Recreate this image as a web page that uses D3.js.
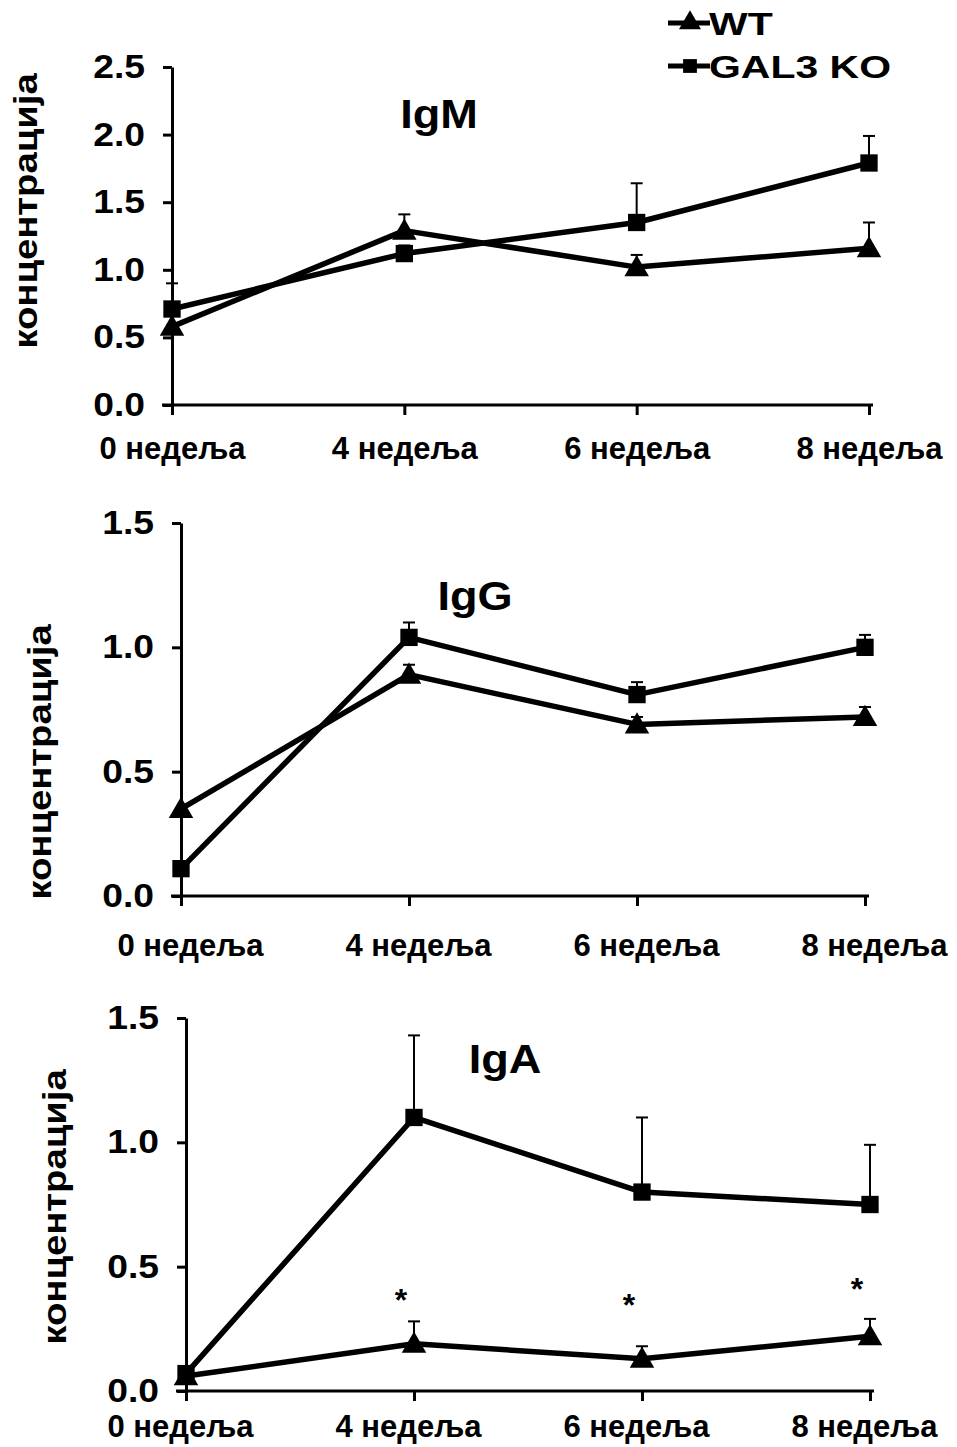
<!DOCTYPE html>
<html>
<head>
<meta charset="utf-8">
<script src="https://cdn.jsdelivr.net/npm/d3@7"></script>
<style>
  body { margin: 0; background: #fff; }
  svg text { font-family: "Liberation Sans", Arial, sans-serif; font-weight: bold; fill: #000; }
</style>
</head>
<body>
<svg id="chart" width="957" height="1447"></svg>
<script>
// week categories on every x axis
const weeks = ["0 недеља", "4 недеља", "6 недеља", "8 недеља"];
const seriesNames = ["WT", "GAL3 KO"];
const yLabel = "концентрација";

// IgM
const igmWT = [0.58, 1.29, 1.02, 1.16];
const igmWTErr = [0, 0.12, 0.09, 0.19];
const igmKO = [0.71, 1.12, 1.35, 1.79];
const igmKOErr = [0.19, 0.06, 0.29, 0.20];

// IgG
const iggWT = [0.35, 0.89, 0.69, 0.72];
const iggWTErr = [0, 0.04, 0.03, 0.04];
const iggKO = [0.11, 1.04, 0.81, 1.00];
const iggKOErr = [0, 0.06, 0.05, 0.05];

// IgA
const igaWT = [0.06, 0.19, 0.13, 0.22];
const igaWTErr = [0, 0.09, 0.05, 0.07];
const igaKO = [0.07, 1.10, 0.80, 0.75];
const igaKOErr = [0, 0.33, 0.30, 0.24];
const igaStars = [null, 0.375, 0.355, 0.42];

const svg = d3.select("#chart");

// the source fonts are wider than Arial, stretch text horizontally
const stretchText = (sel, k) => {
  sel.each(function () {
    const t = d3.select(this);
    const x = +t.attr("x") || 0;
    t.attr("x", x / k).attr("transform", `scale(${k},1)`);
  });
};

const panels = [
  { title: "IgM", wt: igmWT, wtErr: igmWTErr, ko: igmKO, koErr: igmKOErr, stars: null,
    yMax: 2.5, x0: 172, x1: 869, yTop: 67, yBot: 405, titleX: 439, titleY: 128,
    yTitleX: 37, yTitleY: 211, xPad: 22, labelDx: 0 },
  { title: "IgG", wt: iggWT, wtErr: iggWTErr, ko: iggKO, koErr: iggKOErr, stars: null,
    yMax: 1.5, x0: 181, x1: 865, yTop: 523, yBot: 896, titleX: 475, titleY: 610,
    yTitleX: 51, yTitleY: 762, xPad: 28, labelDx: 9 },
  { title: "IgA", wt: igaWT, wtErr: igaWTErr, ko: igaKO, koErr: igaKOErr, stars: igaStars,
    yMax: 1.5, x0: 186, x1: 870, yTop: 1018, yBot: 1391, titleX: 505, titleY: 1073,
    yTitleX: 66, yTitleY: 1207, xPad: 14, labelDx: -6 }
];

const triangle = d3.symbol().type(d3.symbolTriangle).size(260)();
const square = d3.symbol().type(d3.symbolSquare).size(300)();

panels.forEach(p => {
  const g = svg.append("g");

  const x = d3.scalePoint().domain(weeks).range([p.x0, p.x1]);
  const y = d3.scaleLinear().domain([0, p.yMax]).range([p.yBot, p.yTop]);

  // y axis
  const yAxis = d3.axisLeft(y).tickValues(d3.range(0, p.yMax + 0.01, 0.5))
    .tickFormat(d3.format(".1f")).tickSize(9).tickSizeOuter(0).tickPadding(18);
  const yg = g.append("g").attr("transform", `translate(${p.x0},0)`).call(yAxis);
  yg.select(".domain").attr("stroke-width", 3);
  yg.selectAll(".tick line").attr("stroke-width", 3);
  yg.selectAll("text").style("font-size", "33px").call(stretchText, 1.13);

  // x axis
  const xAxis = d3.axisBottom(x).tickSize(10).tickSizeOuter(0).tickPadding(p.xPad);
  const xg = g.append("g").attr("transform", `translate(0,${p.yBot})`).call(xAxis);
  xg.select(".domain").remove();
  xg.append("line").attr("x1", p.x0 - 10).attr("x2", p.x1 + 4)
    .attr("stroke", "#000").attr("stroke-width", 3);
  xg.selectAll(".tick line").attr("stroke-width", 3);
  xg.selectAll("text").style("font-size", "31px").attr("dx", p.labelDx);

  // y title
  g.append("text")
    .attr("transform", `translate(${p.yTitleX},${p.yTitleY}) rotate(-90) scale(1.16,1)`)
    .attr("text-anchor", "middle")
    .style("font-size", "33px")
    .text(yLabel);

  // panel title
  g.append("text")
    .attr("transform", `translate(${p.titleX},${p.titleY}) scale(1.1,1)`)
    .attr("text-anchor", "middle")
    .style("font-size", "41px")
    .text(p.title);

  const series = [
    { vals: p.wt, err: p.wtErr, sym: triangle, dy: 2 },
    { vals: p.ko, err: p.koErr, sym: square, dy: 0 }
  ];

  // error bars (upper half only)
  series.forEach(s => {
    const eb = g.append("g").attr("stroke", "#000").attr("stroke-width", 2);
    weeks.forEach((w, i) => {
      if (!s.err[i]) return;
      const top = y(s.vals[i] + s.err[i]);
      eb.append("line").attr("x1", x(w)).attr("x2", x(w)).attr("y1", y(s.vals[i])).attr("y2", top);
      eb.append("line").attr("x1", x(w) - 6).attr("x2", x(w) + 6).attr("y1", top).attr("y2", top);
    });
  });

  // lines and markers
  const line = d3.line().x((d, i) => x(weeks[i])).y(d => y(d));
  series.forEach(s => {
    g.append("path").datum(s.vals).attr("d", line)
      .attr("fill", "none").attr("stroke", "#000").attr("stroke-width", 5.5)
      .attr("stroke-linejoin", "round");
    g.selectAll(null).data(s.vals).join("path")
      .attr("d", s.sym)
      .attr("transform", (d, i) => `translate(${x(weeks[i])},${y(d) + s.dy})`)
      .attr("fill", "#000");
  });

  // significance stars
  if (p.stars) {
    g.selectAll(null).data(p.stars.map((v, i) => ({ v, w: weeks[i] })).filter(d => d.v !== null))
      .join("text")
      .attr("x", d => x(d.w) - 13)
      .attr("y", d => y(d.v) + 13)
      .attr("text-anchor", "middle")
      .style("font-size", "32px")
      .text("*");
  }
});

// legend
const legend = svg.append("g").attr("transform", "translate(668,0)");
const legendRows = [
  { name: seriesNames[0], sym: d3.symbol().type(d3.symbolTriangle).size(210)(), y: 23 },
  { name: seriesNames[1], sym: d3.symbol().type(d3.symbolSquare).size(190)(), y: 66 }
];
legendRows.forEach(r => {
  legend.append("line").attr("x1", 0).attr("x2", 42).attr("y1", r.y).attr("y2", r.y)
    .attr("stroke", "#000").attr("stroke-width", 5);
  legend.append("path").attr("d", r.sym)
    .attr("transform", `translate(22,${r.y})`).attr("fill", "#000");
  legend.append("text")
    .attr("transform", `translate(41,${r.y + 12}) scale(1.28,1)`)
    .style("font-size", "32px")
    .text(r.name);
});
</script>
</body>
</html>
